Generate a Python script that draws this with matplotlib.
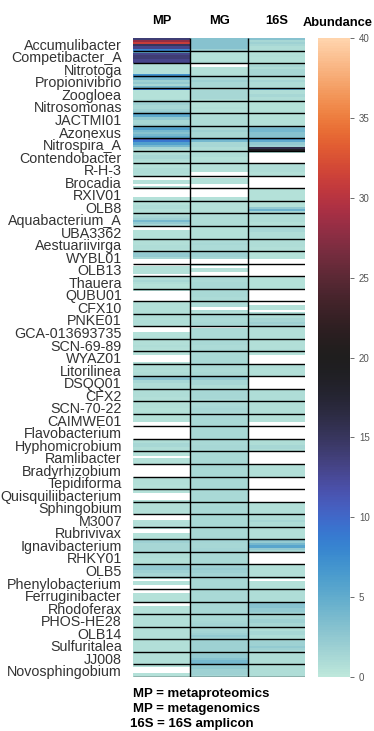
import numpy as np
import matplotlib
matplotlib.use("Agg")
import matplotlib.pyplot as plt
import seaborn as sns

nan = np.nan

genera = ["Accumulibacter", "Competibacter_A", "Nitrotoga", "Propionivibrio",
          "Zoogloea", "Nitrosomonas", "JACTMI01", "Azonexus", "Nitrospira_A",
          "Contendobacter", "R-H-3", "Brocadia", "RXIV01", "OLB8",
          "Aquabacterium_A", "UBA3362", "Aestuariivirga", "WYBL01", "OLB13",
          "Thauera", "QUBU01", "CFX10", "PNKE01", "GCA-013693735", "SCN-69-89",
          "WYAZ01", "Litorilinea", "DSQQ01", "CFX2", "SCN-70-22", "CAIMWE01",
          "Flavobacterium", "Hyphomicrobium", "Ramlibacter", "Bradyrhizobium",
          "Tepidiforma", "Quisquiliibacterium", "Sphingobium", "M3007",
          "Rubrivivax", "Ignavibacterium", "RHKY01", "OLB5", "Phenylobacterium",
          "Ferruginibacter", "Rhodoferax", "PHOS-HE28", "OLB14", "Sulfuritalea",
          "JJ008", "Novosphingobium"]

columns = ["MP", "MG", "16S"]

# six samples per genus (top to bottom), nan = not detected
mp = [
    [14, 28, 31, 15, 13, 8],
    [5, 13, 14, 14, 13, 13],
    [0.6, 0.5, 0.5, 0.5, 0.6, 7],
    [5, 4, 1.8, 2.4, 1.3, 4],
    [9, 0.6, 0.6, 0.6, 0.6, 0.9],
    [1.8, 1.8, 1.3, 1.3, 1.8, 2.4],
    [6, 5, 2.4, 1.3, 1.3, 1.8],
    [5, 6, 4, 3, 4, 5],
    [11, 9, 6, 4, 1.3, 0.9],
    [0.9, 0.9, 1.3, 1.3, 0.9, 0.6],
    [0.6, 0.6, 0.9, 0.9, 0.9, 0.6],
    [nan, nan, 0.6, 0.6, nan, 0.6],
    [nan, nan, nan, nan, 0.6, 0.6],
    [0.6, 0.6, 0.9, 0.9, 0.6, 0.6],
    [0.9, 1.3, 1.8, 4, 2.4, 1.3],
    [nan, nan, 0.6, 0.6, 0.6, 0.6],
    [0.7, 0.7, 0.7, 0.9, 0.9, 0.7],
    [1.8, 2.4, 2.4, 1.3, nan, nan],
    [nan, 0.6, 0.6, 0.6, 0.6, nan],
    [0.9, 0.9, 1.3, 0.9, 0.6, 0.6],
    [0.6, nan, nan, nan, nan, nan],
    [0.7, 0.7, 0.7, 0.7, 0.7, 0.7],
    [0.9, 0.9, 0.7, 0.9, 0.9, 0.7],
    [nan, nan, nan, 0.6, 0.6, 0.7],
    [0.7, 0.7, 0.7, 0.9, 0.7, 0.6],
    [0.6, 0.6, nan, nan, nan, 0.6],
    [0.9, 0.9, 0.9, 0.7, 0.9, 0.9],
    [2.4, 3, 1.3, 0.9, 0.9, 0.9],
    [0.9, 0.9, 0.9, 0.9, 0.7, 0.7],
    [0.7, 0.7, 0.7, 0.6, 0.6, 0.7],
    [0.6, 0.6, 0.6, 0.6, nan, nan],
    [nan, nan, nan, nan, nan, nan],
    [0.9, 0.9, 1.3, 1.3, 0.9, 0.9],
    [0.6, 0.6, nan, 0.6, 0.6, 0.6],
    [nan, nan, nan, nan, nan, nan],
    [0.7, 0.7, 0.7, 0.7, 0.6, 0.6],
    [0.6, 0.6, nan, nan, nan, 0.6],
    [0.7, 0.7, 0.7, 0.7, 0.7, 0.6],
    [nan, nan, nan, 0.6, 0.7, 0.6],
    [0.6, nan, nan, 0.6, 0.6, 0.6],
    [1.8, 1.8, 1.3, 1.3, 1.3, 1.3],
    [0.9, 0.9, 0.9, 0.7, 0.7, 0.7],
    [1.8, 2.4, 2.4, 1.8, 1.3, 1.3],
    [0.6, nan, 0.6, 0.6, nan, nan],
    [nan, nan, 0.6, 0.6, 0.6, 0.7],
    [nan, nan, 0.6, 0.6, 0.6, 0.6],
    [0.7, 0.7, 0.7, 0.7, 0.7, 0.7],
    [0.7, 0.7, 0.7, 0.7, 0.7, 0.7],
    [0.7, 0.7, 0.7, 0.7, 0.7, 0.7],
    [0.7, 0.7, 0.7, 0.7, 0.7, 0.7],
    [0.6, nan, nan, nan, 0.6, 0.6],
]

mg = [
    [3, 3, 3, 3, 3, 1.8],
    [0.6, 0.6, 0.6, 0.6, 0.6, 0.9],
    [nan, nan, 0.6, 0.6, 0.6, 0.7],
    [1.3, 1.3, 1.8, 1.3, 1.3, 1.3],
    [1.3, 1.3, 1.3, 1.3, 1.3, 0.9],
    [0.6, 0.6, 0.6, 0.7, 0.6, 0.6],
    [0.9, 0.9, 0.9, 0.9, 0.9, 0.9],
    [1.3, 1.3, 1.8, 1.3, 1.3, 1.3],
    [6, 4, 1.3, 1.3, 0.9, 0.9],
    [0.9, 0.9, 0.9, 0.6, 0.6, 0.6],
    [0.6, 0.6, 0.6, 0.6, nan, nan],
    [nan, 0.6, 0.6, 0.6, nan, nan],
    [nan, nan, nan, nan, 0.6, 0.6],
    [0.6, 0.6, 0.6, 0.6, 0.6, 0.7],
    [0.9, 0.9, 0.9, 0.9, 0.9, 0.9],
    [0.6, 0.6, 0.6, 0.6, 0.6, 0.6],
    [1.0, 1.0, 1.1, 1.0, 1.0, 1.0],
    [1.8, 1.8, 1.8, 1.3, nan, nan],
    [0.6, nan, 0.6, 0.6, nan, nan],
    [1.1, 1.1, 1.0, 1.1, 1.1, 1.1],
    [1.1, 1.1, 1.1, 1.1, 1.0, 1.0],
    [1.0, 1.0, 1.0, nan, 0.8, 0.6],
    [1.1, 1.1, 1.0, 1.0, 1.1, 1.1],
    [nan, 1.0, 1.0, 1.0, 1.0, 1.0],
    [1.1, 1.1, 1.1, 1.0, 1.0, 1.1],
    [1.1, 1.1, 1.1, 1.1, 1.1, 1.1],
    [1.1, 1.1, 1.0, 1.0, 1.1, 1.1],
    [2.4, 2.4, 1.3, 1.3, 0.9, 0.9],
    [1.3, 1.3, 1.3, 1.3, 1.3, 1.0],
    [1.0, 1.0, 1.1, 1.3, 1.1, 1.0],
    [1.1, 1.1, 1.1, 1.1, 1.1, 1.1],
    [1.1, 1.1, 1.1, 1.1, 1.1, 1.1],
    [1.1, 1.1, 1.1, 1.3, 1.3, 1.1],
    [1.1, 1.1, 1.1, 1.1, 1.1, 1.1],
    [1.3, 1.3, 1.1, 1.1, 1.1, 1.1],
    [1.1, 1.1, 1.1, 1.1, 1.1, 1.1],
    [1.1, 1.1, 1.1, 1.1, 1.1, 1.1],
    [1.1, 1.1, 1.3, 1.3, 1.1, 1.1],
    [1.1, 1.1, 1.1, 1.1, 1.1, 1.1],
    [1.1, 1.1, 1.1, 1.1, 1.1, 1.3],
    [1.5, 1.5, 1.3, 1.3, 1.5, 1.5],
    [1.1, 1.1, 1.1, 1.1, 1.1, 1.1],
    [1.8, 1.8, 2.1, 1.8, 1.5, 1.5],
    [1.1, 1.1, 1.1, 1.1, 1.1, 1.1],
    [1.1, 1.1, 1.1, 1.1, 1.1, 1.1],
    [1.3, 1.3, 1.3, 1.3, 1.3, 1.3],
    [1.1, 1.1, 1.1, 1.3, 1.5, 1.5],
    [1.3, 1.3, 1.5, 1.8, 2.4, 1.8],
    [1.8, 1.8, 1.8, 1.8, 1.8, 1.8],
    [1.8, 2.4, 2.4, 3, 4, 4],
    [2.4, 2.4, 1.8, 1.8, 1.8, 1.3],
]

amp16s = [
    [3, 1.3, 1.8, 1.3, 0.9, 0.9],
    [0.6, 0.6, 0.7, 0.6, 0.6, 0.6],
    [0.9, 1.3, 0.9, 1.3, 1.3, 1.3],
    [0.9, 0.9, 1.3, 0.9, 0.9, 0.9],
    [5, 0.9, 0.9, 1.3, 0.9, 0.9],
    [0.6, 0.6, 0.6, 0.6, 0.6, 0.7],
    [0.6, 0.6, 0.6, 0.6, 0.6, 0.6],
    [3, 4, 4, 3, 3, 3],
    [7, 5, 2.4, 1.8, 16, 19],
    [0.7, nan, nan, nan, nan, nan],
    [0.9, 0.9, 0.9, 0.9, 0.6, 0.6],
    [nan, nan, nan, nan, nan, nan],
    [0.6, 0.6, 0.6, 0.6, 0.6, 0.6],
    [0.6, 0.6, 0.6, 2.4, 4.5, 1.3],
    [0.9, 0.9, 0.9, 0.9, 0.6, 0.6],
    [0.9, 1.3, 1.3, 0.9, 0.9, 0.9],
    [0.9, 0.9, 0.9, 0.9, 0.7, 0.7],
    [0.6, 0.6, 0.6, 0.6, nan, nan],
    [nan, nan, nan, nan, nan, nan],
    [0.6, 0.6, 0.6, 0.6, 0.6, 0.6],
    [nan, nan, nan, nan, nan, nan],
    [nan, nan, 0.6, 0.6, nan, 0.9],
    [0.9, 0.9, 1.3, 1.3, 1.8, 1.3],
    [0.7, 0.7, 0.7, 0.7, 0.7, 0.7],
    [0.7, 0.7, 0.7, 0.7, 0.7, 0.9],
    [0.6, 0.6, nan, nan, nan, nan],
    [0.9, 0.9, 0.7, 0.7, 0.7, 0.7],
    [nan, nan, nan, nan, nan, nan],
    [0.9, 0.9, 0.9, 0.9, 0.9, 0.9],
    [0.7, 0.7, 0.7, 0.7, 0.7, 0.7],
    [0.6, 0.6, 0.6, 0.6, nan, nan],
    [nan, nan, nan, nan, nan, nan],
    [0.9, 0.9, 0.9, 1.3, 1.3, 0.9],
    [nan, nan, nan, nan, nan, nan],
    [0.7, 0.7, 0.7, 0.7, 0.7, 0.7],
    [nan, nan, nan, nan, nan, nan],
    [nan, nan, nan, nan, nan, nan],
    [0.7, 0.7, 0.7, 0.7, 0.7, 0.7],
    [0.9, 0.9, 0.9, 1.3, 0.9, 0.9],
    [0.7, 0.7, 0.7, 0.7, 0.7, 0.7],
    [3, 2.4, 4, 5.5, 2.4, 1.3],
    [nan, nan, nan, nan, nan, nan],
    [0.7, 0.7, 0.7, 0.7, 0.7, 0.7],
    [0.6, nan, 0.6, 0.6, 0.6, 0.6],
    [0.9, 0.9, 0.9, 0.9, 0.9, 0.9],
    [3, 3, 3, 2.4, 2.4, 1.8],
    [0.9, 1.3, 1.8, 1.8, 1.3, 1.3],
    [0.9, 0.9, 1.3, 1.3, 0.9, 0.9],
    [1.3, 1.8, 1.8, 2.4, 1.8, 1.3],
    [0.9, 0.9, 0.9, 0.9, 0.9, 0.9],
    [0.9, 0.9, 0.9, 0.9, 0.9, 0.9],
]

plt.rcParams['font.family'] = ['Liberation Sans', 'DejaVu Sans']

n_sub = len(mp[0])
data = np.column_stack([np.ravel(mp), np.ravel(mg), np.ravel(amp16s)])

fig = plt.figure(figsize=(3.74, 7.31), dpi=100)
ax = fig.add_axes([0.3556, 0.0739, 0.46, 0.874])
cax = fig.add_axes([0.850, 0.0739, 0.0856, 0.874])

cmap = sns.color_palette("icefire", as_cmap=True)
sns.heatmap(data, ax=ax, cbar_ax=cax, cmap=cmap, vmin=0, vmax=40,
            xticklabels=columns, yticklabels=False)

# genus labels in the middle of each block
ax.set_yticks(np.arange(len(genera)) * n_sub + n_sub / 2)
ax.set_yticklabels(genera, fontsize=10.3, color='#333333', rotation=0)
ax.tick_params(axis='y', length=0, pad=8)

ax.xaxis.tick_top()
ax.set_xticklabels(columns, fontsize=9.3, fontweight='bold', rotation=0)
ax.tick_params(axis='x', length=0, pad=8)

# block separators
ax.hlines(np.arange(1, len(genera) + 1) * n_sub, 0, len(columns), colors='black', lw=1)
ax.vlines([1, 2], 0, len(genera) * n_sub, colors='black', lw=1)

cax.set_yticks(np.arange(0, 41, 5))
cax.tick_params(labelsize=7, colors='#555555', length=3, width=0.6)

fig.text(338 / 374, 1 - 23 / 731, "Abundance", ha='center', va='center',
         fontsize=9.3, fontweight='bold')

fig.text(133 / 374, 1 - 694 / 731, "MP = metaproteomics", va='center', fontsize=9.5, fontweight='bold')
fig.text(133 / 374, 1 - 709 / 731, "MP = metagenomics", va='center', fontsize=9.5, fontweight='bold')
fig.text(130 / 374, 1 - 724 / 731, "16S = 16S amplicon", va='center', fontsize=9.5, fontweight='bold')

fig.savefig("out.png", dpi=100)
